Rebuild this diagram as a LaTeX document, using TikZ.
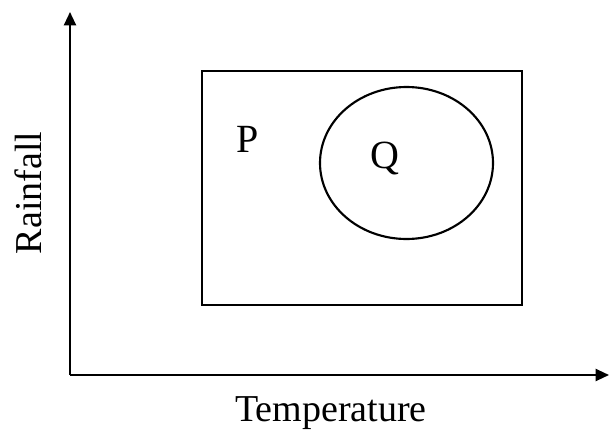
\documentclass[tikz,border=0pt]{standalone}
\usepackage{fontspec}
\setmainfont{Liberation Serif}
\usetikzlibrary{arrows.meta}
\begin{document}
\begin{tikzpicture}[x=0.75pt,y=-0.75pt,
  axis/.style={line width=1.6pt,-{Triangle[length=10pt,width=9pt]}},
  box/.style={line width=1.6pt},
  lab/.style={font=\fontsize{28.5}{31}\selectfont},
  set/.style={font=\fontsize{30}{33}\selectfont}]
\useasboundingbox (0,0) rectangle (610,439);
\coordinate (o) at (70,375);
\coordinate (ytop) at (70,12);
\coordinate (xend) at (609,375);
\draw[axis] (o) -- (ytop);
\draw[axis] (o) -- (xend);
\draw[box] (202,71) rectangle (522,305);
\draw[box] (406.5,163) ellipse [x radius=86.5, y radius=76];
\node[set] (P) at (248,139) {P};
\node[set] (Q) at (385,158) {Q};
\node[lab,rotate=90] (R) at (28,193) {Rainfall};
\node[lab] (T) at (331,413) {Temperature};
\end{tikzpicture}
\end{document}
